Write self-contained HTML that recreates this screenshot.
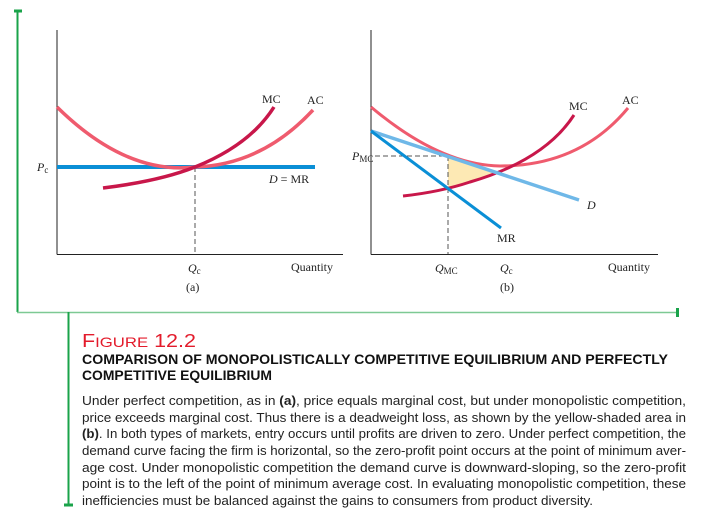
<!DOCTYPE html>
<html><head><meta charset="utf-8"><style>
html,body{margin:0;padding:0;background:#fff;width:703px;height:521px;overflow:hidden}
</style></head><body>
<svg width="703" height="521" viewBox="0 0 703 521" xmlns="http://www.w3.org/2000/svg" font-family="Liberation Serif, serif">
<!-- green frame -->
<g stroke="#1aa34a" fill="none">
<line x1="17.5" y1="11" x2="17.5" y2="312" stroke-width="2"/>
<line x1="14" y1="11" x2="22" y2="11" stroke-width="3"/>
<line x1="17" y1="312.5" x2="677" y2="312.5" stroke-width="1.5" stroke="#7dc994"/>
<line x1="677.5" y1="308" x2="677.5" y2="317" stroke-width="3"/>
<line x1="68.5" y1="312" x2="68.5" y2="506" stroke-width="2"/>
<line x1="64" y1="505" x2="73" y2="505" stroke-width="3"/>
</g>
<!-- panel a -->
<g fill="none">
<line x1="57" y1="30" x2="57" y2="254.5" stroke="#222" stroke-width="1"/>
<line x1="57" y1="254.5" x2="343" y2="254.5" stroke="#222" stroke-width="1"/>
<line x1="195" y1="167" x2="195" y2="254" stroke="#555" stroke-dasharray="5,3"/>
<line x1="57" y1="167" x2="315" y2="167" stroke="#0a8fd6" stroke-width="4"/>
<path d="M57 107 Q 126 175 195 167 Q 262 165 313 110" stroke="#ef5b6e" stroke-width="3.5"/>
<path d="M103 188 Q 160 181 195 167 Q 250 145 274 107" stroke="#c8174a" stroke-width="3.5"/>
</g>
<g font-size="12" fill="#222">
<text x="262" y="103">MC</text>
<text x="307" y="104">AC</text>
<text x="37" y="171" font-style="italic">P<tspan font-size="9" dy="2" font-style="normal">c</tspan></text>
<text x="269" y="183"><tspan font-style="italic">D</tspan> = MR</text>
<text x="188" y="272" font-style="italic">Q<tspan font-size="9" dy="2" font-style="normal">c</tspan></text>
<text x="291" y="271">Quantity</text>
<text x="186" y="291">(a)</text>
</g>
<!-- panel b -->
<g fill="none">
<line x1="371" y1="30" x2="371" y2="254.5" stroke="#222"/>
<line x1="371" y1="254.5" x2="658" y2="254.5" stroke="#222"/>
<polygon points="448,156 448,188 497,173" fill="#fde9b4" stroke="none"/>
<line x1="375" y1="156" x2="448" y2="156" stroke="#555" stroke-dasharray="5,3"/>
<line x1="448" y1="156" x2="448" y2="254" stroke="#555" stroke-dasharray="5,3"/>
<path d="M371 107 Q 440 165 500 166 Q 580 166 628 108" stroke="#ef5b6e" stroke-width="3"/>
<path d="M403 196 Q 440 192 470 182 Q 545 160 574 115" stroke="#c8174a" stroke-width="3"/>
<line x1="371" y1="131" x2="579" y2="200" stroke="#6fb8e8" stroke-width="3.5"/>
<line x1="371" y1="131" x2="501" y2="228" stroke="#0a8fd6" stroke-width="3"/>
</g>
<g font-size="12" fill="#222">
<text x="569" y="110">MC</text>
<text x="622" y="104">AC</text>
<text x="587" y="209" font-style="italic">D</text>
<text x="497" y="242">MR</text>
<text x="352" y="160" font-style="italic">P<tspan font-size="9" dy="2" font-style="normal">MC</tspan></text>
<text x="435" y="272" font-style="italic">Q<tspan font-size="9" dy="2" font-style="normal">MC</tspan></text>
<text x="500" y="272" font-style="italic">Q<tspan font-size="9" dy="2" font-style="normal">c</tspan></text>
<text x="608" y="271">Quantity</text>
<text x="500" y="291">(b)</text>
</g>
<!-- caption -->
<g font-family="Liberation Sans, sans-serif">
<text x="82" y="347" fill="#e31b2b" font-size="18" textLength="114" lengthAdjust="spacingAndGlyphs">F<tspan font-size="14">IGURE</tspan> 12.2</text>
<text x="82" y="364" font-size="13.5" font-weight="bold" fill="#111" textLength="586" lengthAdjust="spacingAndGlyphs">COMPARISON OF MONOPOLISTICALLY COMPETITIVE EQUILIBRIUM AND PERFECTLY</text>
<text x="82" y="380" font-size="13.5" font-weight="bold" fill="#111" textLength="190" lengthAdjust="spacingAndGlyphs">COMPETITIVE EQUILIBRIUM</text>
<g font-size="12.5" fill="#222" lengthAdjust="spacingAndGlyphs">
<text x="82" y="405" textLength="604" lengthAdjust="spacingAndGlyphs">Under perfect competition, as in <tspan font-weight="bold">(a)</tspan>, price equals marginal cost, but under monopolistic competition,</text>
<text x="82" y="422" textLength="604" lengthAdjust="spacingAndGlyphs">price exceeds marginal cost. Thus there is a deadweight loss, as shown by the yellow-shaded area in</text>
<text x="82" y="438" textLength="604" lengthAdjust="spacingAndGlyphs"><tspan font-weight="bold">(b)</tspan>. In both types of markets, entry occurs until profits are driven to zero. Under perfect competition, the</text>
<text x="82" y="455" textLength="604" lengthAdjust="spacingAndGlyphs">demand curve facing the firm is horizontal, so the zero-profit point occurs at the point of minimum aver-</text>
<text x="82" y="472" textLength="604" lengthAdjust="spacingAndGlyphs">age cost. Under monopolistic competition the demand curve is downward-sloping, so the zero-profit</text>
<text x="82" y="488" textLength="604" lengthAdjust="spacingAndGlyphs">point is to the left of the point of minimum average cost. In evaluating monopolistic competition, these</text>
<text x="82" y="505" textLength="511" lengthAdjust="spacingAndGlyphs">inefficiencies must be balanced against the gains to consumers from product diversity.</text>
</g>
</g>
</svg>
</body></html>
